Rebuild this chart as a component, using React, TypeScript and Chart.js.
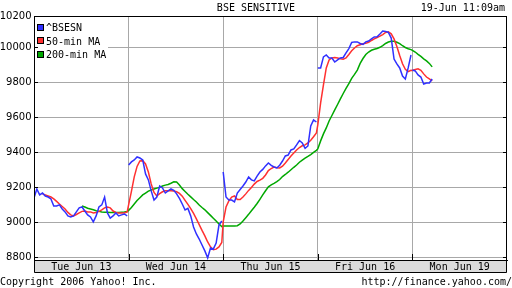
import React, { useEffect, useRef } from 'react';
import { Chart, registerables } from 'chart.js';

Chart.register(...registerables);

// ---- data -------------------------------------------------------------
const SESSION_MINUTES = 335; // 9:55 - 15:30 trading session
const SAMPLE_MINUTES = 10; // one reading every 10 minutes

const dayLabels = ['Tue Jun 13', 'Wed Jun 14', 'Thu Jun 15', 'Fri Jun 16', 'Mon Jun 19'];

const yTickValues = [8800, 9000, 9200, 9400, 9600, 9800, 10000, 10179];
const yTickLabels = ['8800', '9000', '9200', '9400', '9600', '9800', '10000', '10200'];
const Y_MIN = 8784;
const Y_MAX = 10179;

const seriesNames = ['^BSESN', '50-min MA', '200-min MA'];
const seriesColors = ['#3030ff', '#ff3030', '#00a800'];

const chartTitle = 'BSE SENSITIVE';
const timeStamp = '19-Jun 11:09am';
const copyrightText = 'Copyright 2006 Yahoo! Inc.';
const sourceText = 'http://finance.yahoo.com/';

// ^BSESN index, per day
const bseTue = [9139, 9190, 9156, 9167, 9150, 9144, 9133, 9093, 9093, 9099, 9076, 9059, 9036, 9030, 9036, 9059, 9082, 9087, 9064, 9042, 9030, 9002, 9036, 9087, 9099, 9144, 9053, 9024, 9036, 9053, 9036, 9042, 9047, 9036];
const bseWed = [9327, 9345, 9356, 9373, 9367, 9356, 9276, 9242, 9179, 9127, 9144, 9207, 9196, 9167, 9179, 9190, 9182, 9162, 9136, 9104, 9070, 9079, 9036, 8973, 8933, 8904, 8870, 8836, 8796, 8853, 8847, 8881, 8984, 9007];
const bseThu = [9287, 9144, 9127, 9127, 9116, 9167, 9187, 9207, 9230, 9259, 9242, 9236, 9264, 9287, 9302, 9322, 9339, 9325, 9316, 9310, 9326, 9350, 9379, 9384, 9413, 9419, 9442, 9467, 9453, 9422, 9436, 9550, 9585, 9573];
const bseFri = [9882, 9882, 9945, 9956, 9939, 9939, 9916, 9928, 9939, 9942, 9968, 9993, 10028, 10031, 10031, 10022, 10016, 10031, 10036, 10048, 10059, 10060, 10076, 10093, 10091, 10085, 10053, 9933, 9905, 9882, 9836, 9819, 9882, 9956];
const bseMon = [9870, 9865, 9842, 9830, 9790, 9796, 9796, 9819];

// 50-minute moving average
const ma50Tue = [null, null, null, 9162, 9156, 9150, 9144, 9133, 9119, 9104, 9090, 9076, 9056, 9042, 9036, 9044, 9053, 9062, 9064, 9059, 9059, 9053, 9056, 9062, 9070, 9082, 9087, 9082, 9064, 9056, 9053, 9053, 9053, 9059];
const ma50Wed = [9099, 9176, 9259, 9319, 9350, 9352, 9333, 9287, 9219, 9170, 9150, 9163, 9174, 9180, 9180, 9180, 9179, 9174, 9165, 9149, 9125, 9102, 9078, 9050, 9019, 8986, 8953, 8922, 8887, 8859, 8843, 8846, 8859, 8884];
const ma50Thu = [9002, 9087, 9122, 9144, 9150, 9130, 9130, 9144, 9162, 9182, 9198, 9218, 9233, 9241, 9251, 9270, 9295, 9307, 9315, 9312, 9310, 9320, 9339, 9359, 9379, 9396, 9413, 9427, 9437, 9442, 9453, 9469, 9489, 9510];
const ma50Fri = [9556, 9682, 9785, 9882, 9928, 9939, 9941, 9939, 9935, 9932, 9939, 9959, 9980, 9996, 10009, 10015, 10020, 10023, 10028, 10039, 10048, 10056, 10064, 10073, 10085, 10089, 10077, 10048, 10005, 9953, 9906, 9874, 9861, 9869];
const ma50Mon = [9868, 9873, 9877, 9869, 9848, 9830, 9819, 9808];

// 200-minute moving average
const ma200Tue = [null, null, null, null, null, null, null, null, null, null, null, null, null, null, null, null, null, 9093, 9087, 9080, 9076, 9071, 9066, 9062, 9059, 9057, 9057, 9055, 9055, 9055, 9056, 9057, 9058, 9061];
const ma200Wed = [9068, 9084, 9104, 9124, 9140, 9156, 9167, 9178, 9184, 9190, 9195, 9199, 9207, 9212, 9216, 9223, 9231, 9230, 9213, 9192, 9176, 9160, 9145, 9130, 9116, 9098, 9084, 9071, 9055, 9039, 9023, 9007, 8990, 8975];
const ma200Thu = [8979, 8979, 8979, 8979, 8979, 8980, 8990, 9007, 9026, 9045, 9066, 9086, 9107, 9131, 9156, 9180, 9202, 9214, 9222, 9232, 9244, 9261, 9273, 9286, 9300, 9314, 9327, 9343, 9355, 9366, 9376, 9387, 9399, 9411];
const ma200Fri = [9419, 9465, 9505, 9539, 9579, 9610, 9642, 9673, 9705, 9736, 9765, 9793, 9822, 9845, 9870, 9908, 9936, 9959, 9973, 9983, 9989, 9993, 10000, 10010, 10022, 10030, 10035, 10035, 10029, 10021, 10009, 9999, 9992, 9987];
const ma200Mon = [9983, 9973, 9960, 9948, 9934, 9922, 9908, 9888];

// ---- helpers ------------------------------------------------------------
type Pt = { x: number; y: number | null };

function toPoints(days: (number | null)[][], breakBetweenDays: boolean): Pt[] {
  const pts: Pt[] = [];
  days.forEach((vals, d) => {
    vals.forEach((v, i) => {
      if (v === null) return;
      pts.push({ x: d * SESSION_MINUTES + i * SAMPLE_MINUTES, y: v });
    });
    if (breakBetweenDays && d < days.length - 1) {
      pts.push({ x: (d + 1) * SESSION_MINUTES - 1, y: null });
    }
  });
  return pts;
}

const MONO = '"DejaVu Sans Mono", "Liberation Mono", monospace';
const SANS = '"DejaVu Sans", sans-serif';
const GRID = '#a8a8a8';

const dayBoundaries = [1, 2, 3, 4].map((d) => d * SESSION_MINUTES);
const dayCenters = dayLabels.map((_, d) => d * SESSION_MINUTES + SESSION_MINUTES / 2);
const xTickValues = [...dayCenters, ...dayBoundaries].sort((a, b) => a - b);

const framePlugin = {
  id: 'yahooFrame',
  afterDatasetsDraw(chart: any) {
    const { ctx, chartArea: ca, scales } = chart;
    const xs = scales.x;
    const ys = scales.y;
    ctx.save();

    // legend (inside plot, white background)
    const lx = ca.left + 2;
    const ly = ca.top + 3;
    ctx.fillStyle = '#ffffff';
    ctx.fillRect(lx, ly, 72, 42);
    ctx.font = '10px ' + MONO;
    ctx.textAlign = 'left';
    ctx.textBaseline = 'alphabetic';
    chart.data.datasets.forEach((ds: any, i: number) => {
      const base = ly + 12 + i * 13.5;
      const by = Math.round(base - 7.5);
      const bx = lx + 1;
      ctx.fillStyle = '#000';
      ctx.fillRect(bx, by, 7, 7);
      ctx.fillStyle = ds.borderColor;
      ctx.fillRect(bx + 1, by + 1, 5, 5);
      ctx.fillStyle = '#000';
      ctx.fillText(ds.label, lx + 10, base);
    });

    // frame
    ctx.strokeStyle = '#000';
    ctx.lineWidth = 1;
    const L = ca.left + 0.5;
    const R = ca.right - 0.5;
    const T = ca.top + 0.5;
    const B = xs.bottom - 0.5;
    ctx.beginPath();
    ctx.moveTo(L, T); ctx.lineTo(R, T);
    ctx.moveTo(R, T); ctx.lineTo(R, B);
    ctx.moveTo(L, B); ctx.lineTo(R, B);
    ctx.moveTo(L, T); ctx.lineTo(L, B);
    ctx.moveTo(L, ca.bottom + 0.5); ctx.lineTo(R, ca.bottom + 0.5);
    // inward tick marks
    yTickValues.forEach((v) => {
      const py = Math.round(ys.getPixelForValue(v)) + 0.5;
      ctx.moveTo(ca.left, py); ctx.lineTo(ca.left + 4, py);
      ctx.moveTo(ca.right - 4, py); ctx.lineTo(ca.right, py);
    });
    dayBoundaries.forEach((v) => {
      const px = Math.round(xs.getPixelForValue(v)) + 0.5;
      ctx.moveTo(px, ca.bottom); ctx.lineTo(px, ca.bottom - 6);
    });
    ctx.stroke();
    ctx.restore();
  },
  afterDraw(chart: any) {
    const { ctx, width, height } = chart;
    ctx.save();
    ctx.fillStyle = '#000';
    ctx.font = '10px ' + MONO;
    ctx.textBaseline = 'alphabetic';
    ctx.textAlign = 'center';
    ctx.fillText(chartTitle, width / 2, 11);
    ctx.textAlign = 'right';
    ctx.fillText(timeStamp, width - 7, 11);
    ctx.textAlign = 'left';
    ctx.fillText(copyrightText, 0, height - 3);
    ctx.textAlign = 'right';
    ctx.fillText(sourceText, width, height - 3);
    ctx.restore();
  },
};

export default function App() {
  const canvasRef = useRef<HTMLCanvasElement>(null);

  useEffect(() => {
    document.body.style.margin = '0';
    const canvas = canvasRef.current;
    if (!canvas) return;

    const seriesDays = [
      [bseTue, bseWed, bseThu, bseFri, bseMon],
      [ma50Tue, ma50Wed, ma50Thu, ma50Fri, ma50Mon],
      [ma200Tue, ma200Wed, ma200Thu, ma200Fri, ma200Mon],
    ];

    const datasets = seriesDays.map((days, i) => ({
      label: seriesNames[i],
      data: toPoints(days, i === 0),
      borderColor: seriesColors[i],
      backgroundColor: seriesColors[i],
      borderWidth: 1.5,
      pointRadius: 0,
      tension: 0,
      spanGaps: false,
      fill: false,
    }));

    const chart = new Chart(canvas, {
      type: 'line',
      data: { datasets },
      plugins: [framePlugin],
      options: {
        animation: false,
        responsive: false,
        devicePixelRatio: 1,
        events: [],
        layout: { padding: { top: 16, right: 5, bottom: 15, left: 0 } },
        plugins: {
          legend: { display: false },
          title: { display: false },
          tooltip: { enabled: false },
        },
        scales: {
          x: {
            type: 'linear',
            min: 0,
            max: dayLabels.length * SESSION_MINUTES,
            backgroundColor: '#dcdcdc',
            afterBuildTicks: (s: any) => {
              s.ticks = xTickValues.map((v) => ({ value: v }));
            },
            afterFit: (s: any) => {
              s.height = 13;
            },
            ticks: {
              autoSkip: false,
              maxRotation: 0,
              minRotation: 0,
              padding: 1,
              color: '#000',
              font: { family: MONO, size: 10 },
              callback: (v: any) => {
                const idx = dayCenters.indexOf(Number(v));
                return idx >= 0 ? dayLabels[idx] : '';
              },
            },
            grid: {
              drawTicks: false,
              lineWidth: 1,
              color: (c: any) =>
                c.tick && dayBoundaries.includes(c.tick.value) ? GRID : 'rgba(0,0,0,0)',
            },
            border: { color: '#000', width: 1 },
          },
          y: {
            type: 'linear',
            min: Y_MIN,
            max: Y_MAX,
            afterBuildTicks: (s: any) => {
              s.ticks = yTickValues.map((v) => ({ value: v }));
            },
            afterFit: (s: any) => {
              s.width = 34;
            },
            ticks: {
              padding: 2.5,
              color: '#000',
              font: { family: SANS, size: 10 },
              callback: (v: any) => {
                const idx = yTickValues.indexOf(Number(v));
                return idx >= 0 ? yTickLabels[idx] : '';
              },
            },
            grid: { drawTicks: false, color: GRID, lineWidth: 1 },
            border: { color: '#000', width: 1 },
          },
        },
      },
    } as any);

    return () => chart.destroy();
  }, []);

  return (
    <div style={{ width: 512, height: 288, background: '#ffffff' }}>
      <canvas ref={canvasRef} width={512} height={288} style={{ display: 'block', width: 512, height: 288 }} />
    </div>
  );
}
